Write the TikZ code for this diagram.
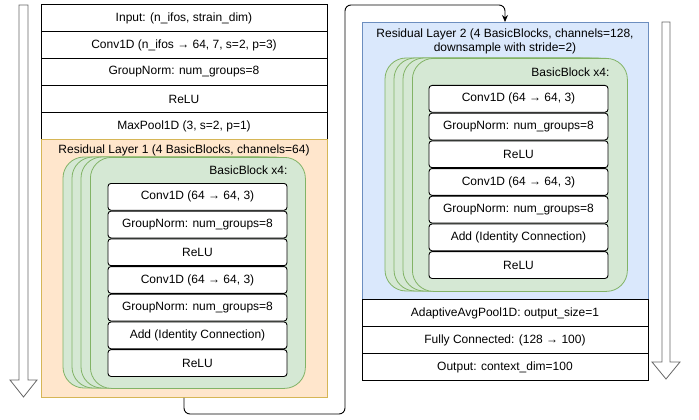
\documentclass[tikz,border=0pt]{standalone}
\usepackage{fontspec}
\setmainfont{Liberation Sans}
\usetikzlibrary{arrows.meta}
\definecolor{layerorange}{HTML}{FFE6CC}
\definecolor{layerorangeline}{HTML}{D6B656}
\definecolor{layerblue}{HTML}{DAE8FC}
\definecolor{layerblueline}{HTML}{6C8EBF}
\definecolor{blockgreen}{HTML}{D5E8D4}
\definecolor{blockgreenline}{HTML}{82B366}
\definecolor{flowgray}{HTML}{666666}

\tikzset{
  txt/.style={font=\fontsize{12}{14}\selectfont},
  row/.style={txt, draw, fill=white, line width=0.9pt, anchor=north, inner sep=0pt,
    minimum width=286pt, minimum height=27pt},
  subrow/.style={txt, draw, fill=white, line width=0.9pt, anchor=north, inner sep=0pt,
    rounded corners=3pt, minimum width=179pt, minimum height=26.8pt},
  card/.style={draw=blockgreenline, fill=blockgreen, line width=0.8pt, rounded corners=21pt},
  hollow/.style={draw=flowgray, fill=white, line width=0.8pt},
}

\begin{document}
\begin{tikzpicture}[x=1pt, y=-1pt]
    \useasboundingbox (0,0) rectangle (699,420);

    % Stem
    \node[row] (input) at (184,4) {Input: (n\_ifos, strain\_dim)};
    \node[row] (conv0) at (184,31) {Conv1D (n\_ifos → 64, 7, s=2, p=3)};
    \node[row] (gn0) at (184,58) {GroupNorm: num\_groups=8};
    \node[row] (relu0) at (184,85) {ReLU};
    \node[row] (pool0) at (184,112) {MaxPool1D (3, s=2, p=1)};

    % Residual layer 1
    \node[row, draw=layerorangeline, fill=layerorange, minimum height=258pt] (layer1) at (184,139) {};
    \node[txt, anchor=north] (title1) at (184,141) {Residual Layer 1 (4 BasicBlocks, channels=64)};
    \foreach \dx in {27,18,9}
        \draw[card] (90-\dx,157) rectangle (305-\dx,388);
    \node[card, anchor=north west, minimum width=215pt, minimum height=231pt] (block1) at (90,157) {};
    \node[txt, anchor=east] (count1) at (291,170) {BasicBlock x4:};
    \node[subrow] (b1conv1) at (197.5,183) {Conv1D (64 → 64, 3)};
    \node[subrow] (b1gn1) at (b1conv1.south) {GroupNorm: num\_groups=8};
    \node[subrow] (b1relu1) at (b1gn1.south) {ReLU};
    \node[subrow] (b1conv2) at (b1relu1.south) {Conv1D (64 → 64, 3)};
    \node[subrow] (b1gn2) at (b1conv2.south) {GroupNorm: num\_groups=8};
    \node[subrow] (b1add) at (b1gn2.south) {Add (Identity Connection)};
    \node[subrow] (b1relu2) at (b1add.south) {ReLU};

    % Residual layer 2
    \node[row, draw=layerblueline, fill=layerblue, minimum height=277pt] (layer2) at (505,22) {};
    \node[txt, anchor=north, align=center] (title2) at (505,25)
        {Residual Layer 2 (4 BasicBlocks, channels=128,\\downsample with stride=2)};
    \foreach \dx in {27,18,9}
        \draw[card] (412-\dx,58) rectangle (627-\dx,291);
    \node[card, anchor=north west, minimum width=215pt, minimum height=233pt] (block2) at (412,58) {};
    \node[txt, anchor=east] (count2) at (613,72) {BasicBlock x4:};
    \node[subrow] (b2conv1) at (518.5,85) {Conv1D (64 → 64, 3)};
    \node[subrow] (b2gn1) at (b2conv1.south) {GroupNorm: num\_groups=8};
    \node[subrow] (b2relu1) at (b2gn1.south) {ReLU};
    \node[subrow] (b2conv2) at (b2relu1.south) {Conv1D (64 → 64, 3)};
    \node[subrow] (b2gn2) at (b2conv2.south) {GroupNorm: num\_groups=8};
    \node[subrow] (b2add) at (b2gn2.south) {Add (Identity Connection)};
    \node[subrow] (b2relu2) at (b2add.south) {ReLU};

    % Head
    \node[row] (avgpool) at (505,299) {AdaptiveAvgPool1D: output\_size=1};
    \node[row] (fc) at (505,326) {Fully Connected: (128 → 100)};
    \node[row] (output) at (505,353) {Output: context\_dim=100};

    % Hand-over between columns
    \coordinate (turn) at (345,414);
    \draw[line width=0.9pt, rounded corners=6pt, -{Stealth[length=7pt,width=6pt]}]
        (layer1.south) |- (turn) |- ([yshift=17pt]layer2.north) -- (layer2.north);

    % Reading direction
    \draw[hollow] (19,5) -- (28,5) -- (28,380) -- (37,380) -- (23.5,397)
        -- (10,380) -- (19,380) -- cycle;
    \draw[hollow] (662,22) -- (670,22) -- (670,362) -- (680,362) -- (666,379)
        -- (652,362) -- (662,362) -- cycle;
\end{tikzpicture}
\end{document}
